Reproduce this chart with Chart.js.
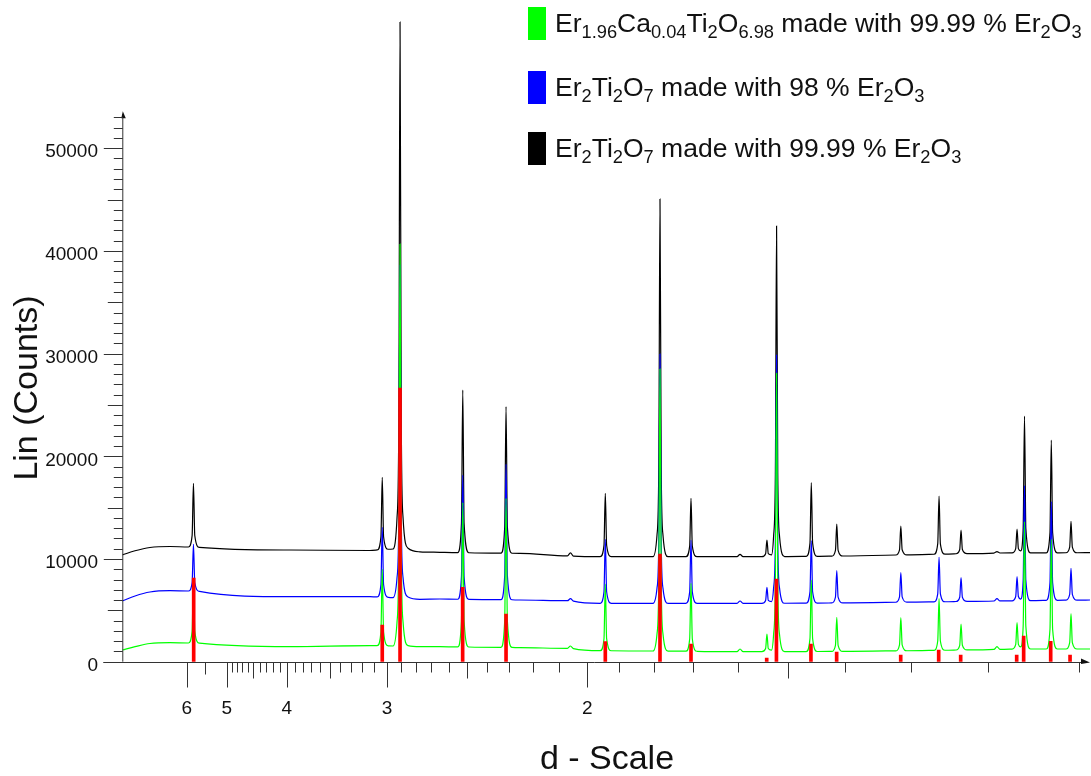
<!DOCTYPE html>
<html>
<head>
<meta charset="utf-8">
<script src="https://cdn.jsdelivr.net/npm/chart.js@4.4.1/dist/chart.umd.min.js"></script>
<style>
  html, body { margin: 0; padding: 0; background: #fff; }
  #wrap { position: relative; width: 1091px; height: 776px; overflow: hidden; }
  #c { position: absolute; left: 0; top: 0; }
  .lg { position: absolute; left: 528px; height: 33px; display: flex; align-items: center;
        font-family: "Liberation Sans", Arial, sans-serif; font-size: 26.5px; color: #111; white-space: nowrap; }
  .sq { display: inline-block; width: 18px; height: 33px; margin-right: 9px; }
  .lg sub { font-size: 69%; vertical-align: baseline; position: relative; top: 0.32em; line-height: 0; }
</style>
</head>
<body>
<div id="wrap">
  <canvas id="c" width="1091" height="776"></canvas>
  <div class="lg" style="top:7px"><span class="sq" style="background:#00ff00"></span><span>Er<sub>1.96</sub>Ca<sub>0.04</sub>Ti<sub>2</sub>O<sub>6.98</sub> made with 99.99 % Er<sub>2</sub>O<sub>3</sub></span></div>
  <div class="lg" style="top:71px"><span class="sq" style="background:#0000ff"></span><span>Er<sub>2</sub>Ti<sub>2</sub>O<sub>7</sub> made with 98 % Er<sub>2</sub>O<sub>3</sub></span></div>
  <div class="lg" style="top:132px"><span class="sq" style="background:#000000"></span><span>Er<sub>2</sub>Ti<sub>2</sub>O<sub>7</sub> made with 99.99 % Er<sub>2</sub>O<sub>3</sub></span></div>
</div>
<script>
// x values are 1/d (1/Angstrom); the axis is linear in 1/d and labelled with d
const blackSeries = [
 [0.1131,10389],[0.1237,10800],[0.1361,11120],[0.1528,11217],
 [0.1681,11168],[0.1712,12285],[0.1723,17371],[0.1734,12285],[0.1773,11140],
 [0.2526,10876],[0.3192,10828],
 [0.3252,10880],[0.3283,12170],[0.3294,17955],[0.3305,12170],[0.3344,10950],
 [0.3384,10973],[0.3417,14030],[0.3432,23785],[0.3442,62288],[0.3452,23785],[0.3467,14030],[0.3509,11050],
 [0.3608,10700],[0.3774,10652],
 [0.3922,10620],[0.3953,13470],[0.3964,26455],[0.3975,13470],[0.4014,10610],
 [0.4282,10570],[0.4313,13128],[0.4324,24829],[0.4335,13128],[0.4374,10560],
 [0.4440,10555],
 [0.4835,10300],[0.4860,10600],[0.4885,10280],
 [0.5108,10224],[0.5139,11335],[0.5150,16397],[0.5161,11335],[0.5200,10224],
 [0.5547,10224],[0.5580,12314],[0.5595,18931],[0.5605,45053],[0.5615,18931],[0.5630,12314],[0.5672,10224],
 [0.5821,10224],[0.5852,11247],[0.5863,15910],[0.5874,11247],[0.5913,10224],
 [0.6246,10224],[0.6271,10458],[0.6296,10224],
 [0.6453,10224],[0.6484,10517],[0.6495,11850],[0.6506,10517],[0.6533,10400],[0.6550,12171],[0.6565,18286],[0.6575,42424],[0.6585,18286],[0.6600,12171],[0.6642,10240],
 [0.6822,10260],[0.6853,11550],[0.6864,17429],[0.6875,11550],[0.6914,10260],
 [0.7034,10280],[0.7065,10843],[0.7076,13408],[0.7087,10843],[0.7126,10290],
 [0.7567,10389],[0.7598,10897],[0.7609,13213],[0.7620,10897],[0.7659,10400],
 [0.7885,10460],[0.7916,11481],[0.7927,16134],[0.7938,11481],[0.7977,10470],
 [0.8068,10510],[0.8099,10927],[0.8110,12824],[0.8121,10927],[0.8160,10520],
 [0.8384,10580],[0.8409,10711],[0.8434,10585],
 [0.8534,10595],[0.8565,11014],[0.8576,12921],[0.8587,11014],[0.8606,10800],[0.8627,12998],[0.8638,23924],[0.8649,12998],[0.8688,10600],
 [0.8819,10605],[0.8850,12582],[0.8861,21587],[0.8872,12582],[0.8911,10605],
 [0.8983,10610],[0.9014,11161],[0.9025,13671],[0.9036,11161],[0.9075,10610],
 [0.9183,10613]
];
const blueSeries = [
 [0.1131,5910],[0.1237,6400],[0.1361,6787],[0.1528,6913],
 [0.1681,6884],[0.1712,7702],[0.1723,11431],[0.1734,7702],[0.1773,6850],
 [0.2526,6329],[0.3192,6329],
 [0.3252,6310],[0.3283,7522],[0.3294,13087],[0.3305,7522],[0.3344,6260],
 [0.3384,6241],[0.3417,8184],[0.3432,14338],[0.3442,38627],[0.3452,14338],[0.3467,8184],[0.3509,6300],
 [0.3608,6076],[0.3774,6105],
 [0.3922,6080],[0.3953,8258],[0.3964,18179],[0.3975,8258],[0.4014,6070],
 [0.4282,6045],[0.4313,8418],[0.4324,19250],[0.4335,8418],[0.4374,6030],
 [0.4440,6008],
 [0.4835,5939],[0.4860,6134],[0.4885,5900],
 [0.5108,5686],[0.5139,6808],[0.5150,11918],[0.5161,6808],[0.5200,5686],
 [0.5547,5686],[0.5580,7143],[0.5595,11755],[0.5605,29961],[0.5615,11755],[0.5630,7143],[0.5672,5686],
 [0.5821,5686],[0.5852,6796],[0.5863,11850],[0.5874,6796],[0.5913,5686],
 [0.6246,5686],[0.6271,5910],[0.6296,5686],
 [0.6453,5686],[0.6484,5966],[0.6495,7244],[0.6506,5966],[0.6533,5850],[0.6550,7137],[0.6565,11731],[0.6575,29864],[0.6585,11731],[0.6600,7137],[0.6642,5690],
 [0.6822,5700],[0.6853,6795],[0.6864,11782],[0.6875,6795],[0.6914,5705],
 [0.7034,5720],[0.7065,6285],[0.7076,8861],[0.7087,6285],[0.7126,5730],
 [0.7567,5790],[0.7598,6308],[0.7609,8666],[0.7620,6308],[0.7659,5795],
 [0.7885,5830],[0.7916,6610],[0.7927,10165],[0.7938,6610],[0.7977,5835],
 [0.8068,5860],[0.8099,6277],[0.8110,8179],[0.8121,6277],[0.8160,5865],
 [0.8384,5910],[0.8409,6134],[0.8434,5915],
 [0.8534,5930],[0.8565,6352],[0.8576,8276],[0.8587,6352],[0.8606,6100],[0.8627,7955],[0.8638,17137],[0.8649,7955],[0.8688,5945],
 [0.8819,5975],[0.8850,7704],[0.8861,15579],[0.8872,7704],[0.8911,5980],
 [0.8983,6000],[0.9014,6557],[0.9025,9094],[0.9036,6557],[0.9075,6000],
 [0.9183,6008]
];
const greenSeries = [
 [0.1131,1139],[0.1237,1461],[0.1361,1772],[0.1528,1850],
 [0.1681,1821],[0.1712,2960],[0.1723,8150],[0.1734,2960],[0.1773,1800],
 [0.2526,1461],[0.3192,1558],
 [0.3252,1558],[0.3283,2897],[0.3294,8997],[0.3305,2897],[0.3344,1540],
 [0.3384,1529],[0.3417,3878],[0.3432,11315],[0.3442,40671],[0.3452,11315],[0.3467,3878],[0.3509,1560],
 [0.3608,1461],[0.3774,1461],
 [0.3922,1440],[0.3953,3968],[0.3964,15482],[0.3975,3968],[0.4014,1430],
 [0.4282,1400],[0.4313,4012],[0.4324,15910],[0.4335,4012],[0.4374,1390],
 [0.4440,1363],
 [0.4835,1305],[0.4860,1529],[0.4885,1280],
 [0.5108,1071],[0.5139,2240],[0.5150,7566],[0.5161,2240],[0.5200,1065],
 [0.5547,1040],[0.5580,2688],[0.5595,7905],[0.5605,28500],[0.5615,7905],[0.5630,2688],[0.5672,1035],
 [0.5821,1020],[0.5852,2211],[0.5863,7634],[0.5874,2211],[0.5913,1015],
 [0.6246,974],[0.6271,1237],[0.6296,974],
 [0.6453,974],[0.6484,1284],[0.6495,2697],[0.6506,1284],[0.6533,1130],[0.6550,2600],[0.6565,7751],[0.6575,28081],[0.6585,7751],[0.6600,2600],[0.6642,980],
 [0.6822,990],[0.6853,2244],[0.6864,7955],[0.6875,2244],[0.6914,995],
 [0.7034,1000],[0.7065,1598],[0.7076,4323],[0.7087,1598],[0.7126,1005],
 [0.7567,1060],[0.7598,1640],[0.7609,4284],[0.7620,1640],[0.7659,1065],
 [0.7885,1110],[0.7916,2014],[0.7927,6134],[0.7938,2014],[0.7977,1115],
 [0.8068,1140],[0.8099,1596],[0.8110,3671],[0.8121,1596],[0.8160,1145],
 [0.8384,1200],[0.8409,1461],[0.8434,1205],
 [0.8534,1230],[0.8565,1692],[0.8576,3797],[0.8587,1692],[0.8606,1450],[0.8627,3468],[0.8638,13632],[0.8649,3468],[0.8688,1237],
 [0.8819,1237],[0.8850,3160],[0.8861,11918],[0.8872,3160],[0.8911,1237],
 [0.8983,1237],[0.9014,1856],[0.9025,4674],[0.9036,1856],[0.9075,1237],
 [0.9183,1237]
];
// reference pattern sticks (red)
const refSticks = [
 [0.1725,8150],[0.3294,3573],[0.3442,26650],[0.3963,7244],[0.4324,4645],[0.5150,1947],
 [0.5605,10487],[0.5863,1723],[0.6493,360],[0.6574,8052],[0.6861,1723],[0.7075,944],
 [0.7608,652],[0.7924,1139],[0.8107,652],[0.8573,652],[0.8631,2502],[0.8856,1986],[0.9017,652]
];
// axis ticks
const dLabelled = [6, 5, 4, 3, 2];
const dHalf = [5.5, 4.5, 3.5, 2.5, 1.5];
const dMinor = [4.9,4.8,4.7,4.6,4.4,4.3,4.2,4.1, 3.9,3.8,3.7,3.6,3.4,3.3,3.2,3.1,
                2.9,2.8,2.7,2.6,2.4,2.3,2.2,2.1, 1.9,1.8,1.7,1.6,1.4,1.3,1.2,1.1];
const yLabelled = [0, 10000, 20000, 30000, 40000, 50000];
const yAxisTop = 53300;
const xMin = 0.1131, xMax = 0.9183, yMax = 64430;

const FONT = '"Liberation Sans", Arial, sans-serif';
const toXY = arr => arr.map(p => ({x: p[0], y: p[1]}));

const axesPlugin = {
  id: 'dscaleAxes',
  afterDraw(chart) {
    const ctx = chart.ctx, xs = chart.scales.x, ys = chart.scales.y;
    const x0 = xs.left, y0 = ys.getPixelForValue(0);
    ctx.save();
    ctx.strokeStyle = '#333'; ctx.fillStyle = '#111'; ctx.lineWidth = 1;
    // y axis line
    const yTopPx = ys.getPixelForValue(yAxisTop);
    ctx.beginPath(); ctx.moveTo(x0 + 0.5, y0); ctx.lineTo(x0 + 0.5, yTopPx); ctx.stroke();
    ctx.beginPath(); ctx.moveTo(x0 + 0.5, yTopPx - 3); ctx.lineTo(x0 + 3.5, yTopPx + 4); ctx.lineTo(x0 - 1, yTopPx + 4); ctx.closePath(); ctx.fill();
    // y ticks
    for (let v = 0; v <= 53000; v += 1000) {
      const py = Math.round(ys.getPixelForValue(v)) + 0.5;
      const len = v % 10000 === 0 ? 19 : (v % 5000 === 0 ? 15 : 9);
      ctx.beginPath(); ctx.moveTo(x0 + 0.5, py); ctx.lineTo(x0 + 0.5 - len, py); ctx.stroke();
    }
    ctx.font = '19px ' + FONT; ctx.textAlign = 'right'; ctx.textBaseline = 'middle';
    yLabelled.forEach(v => ctx.fillText(String(v), 98, ys.getPixelForValue(v) + 4));
    // x axis line + arrow
    const xEnd = xs.right;
    const ay = Math.round(y0) + 0.5;
    ctx.beginPath(); ctx.moveTo(x0 - 19, ay); ctx.lineTo(xEnd - 4, ay); ctx.stroke();
    ctx.beginPath(); ctx.moveTo(xEnd, ay); ctx.lineTo(xEnd - 9, ay - 4); ctx.lineTo(xEnd - 9, ay + 1.5); ctx.closePath(); ctx.fill();
    // x ticks (d-scale)
    const tick = (d, len) => {
      const px = Math.round(xs.getPixelForValue(1 / d)) + 0.5;
      ctx.beginPath(); ctx.moveTo(px, ay); ctx.lineTo(px, ay + len); ctx.stroke();
    };
    dLabelled.forEach(d => tick(d, 25));
    dHalf.forEach(d => tick(d, d === 5.5 ? 12 : 16));
    dMinor.forEach(d => tick(d, 10));
    ctx.textAlign = 'center';
    dLabelled.forEach(d => ctx.fillText(String(d), xs.getPixelForValue(1 / d), 709));
    // titles
    ctx.font = '34px ' + FONT;
    ctx.fillText('d - Scale', 607, 760);
    ctx.save(); ctx.translate(28, 388); ctx.rotate(-Math.PI / 2);
    ctx.fillText('Lin (Counts)', 0, 0); ctx.restore();
    ctx.restore();
  }
};

const lineStyle = { borderWidth: 1.2, pointRadius: 0, cubicInterpolationMode: 'monotone' };

new Chart(document.getElementById('c'), {
  type: 'line',
  data: {
    datasets: [
      { type: 'bar', label: 'reference', data: toXY(refSticks), backgroundColor: '#ff0000',
        barThickness: 3, order: 0 },
      Object.assign({ label: 'Er1.96Ca0.04Ti2O6.98 made with 99.99 % Er2O3', data: toXY(greenSeries),
        borderColor: '#00ff00', order: 1 }, lineStyle),
      Object.assign({ label: 'Er2Ti2O7 made with 98 % Er2O3', data: toXY(blueSeries),
        borderColor: '#0000ff', order: 2 }, lineStyle),
      Object.assign({ label: 'Er2Ti2O7 made with 99.99 % Er2O3', data: toXY(blackSeries),
        borderColor: '#000000', order: 3 }, lineStyle)
    ]
  },
  options: {
    responsive: false, animation: false,
    layout: { padding: { left: 122.3, right: 1, top: 0, bottom: 114.3 } },
    scales: {
      x: { type: 'linear', min: xMin, max: xMax, offset: false, display: false },
      y: { type: 'linear', min: 0, max: yMax, display: false }
    },
    plugins: { legend: { display: false }, tooltip: { enabled: false } }
  },
  plugins: [axesPlugin]
});
</script>
</body>
</html>
